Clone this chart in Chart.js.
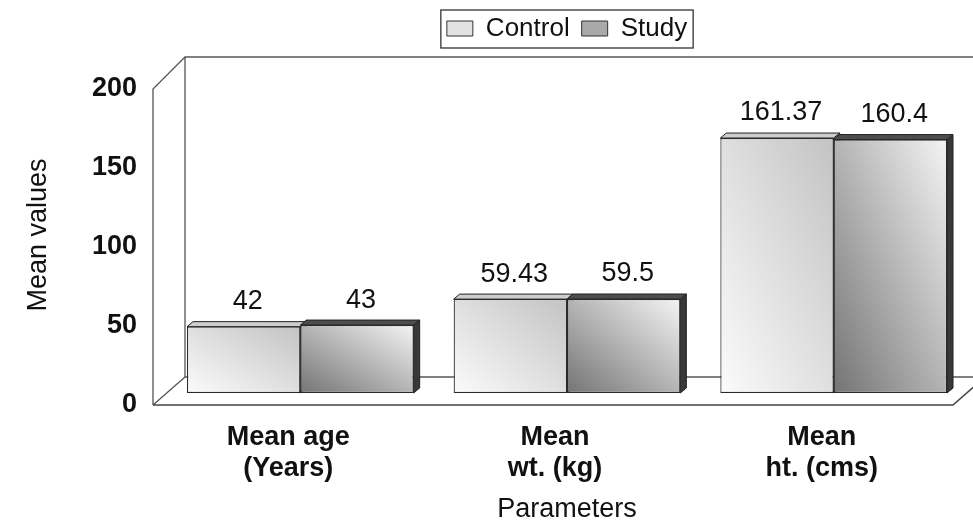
<!DOCTYPE html>
<html>
<head>
<meta charset="utf-8">
<style>
html,body{margin:0;padding:0;background:#ffffff;}
canvas{display:block;}
</style>
<script src="https://cdn.jsdelivr.net/npm/chart.js@4.4.0/dist/chart.umd.min.js"></script>
</head>
<body>
<canvas id="c" width="973" height="529"></canvas>
<script>
// ---- data ----
const categories = [["Mean age", "(Years)"], ["Mean", "wt. (kg)"], ["Mean", "ht. (cms)"]];
const seriesNames = ["Control", "Study"];
const controlValues = [42, 59.43, 161.37];
const studyValues = [43, 59.5, 160.4];
const yTickValues = [0, 50, 100, 150, 200];
const xAxisTitle = "Parameters";
const yAxisTitle = "Mean values";

// ---- styling ----
const FONT = "'Liberation Sans', Arial, Helvetica, sans-serif";
const CAT_PCT = 0.85;
const gradColors = [["#c3c3c3", "#fbfbfb"], ["#f4f4f4", "#747474"]]; // [top-right, bottom-left]
const topFaceColors = ["#cdcdcd", "#4d4d4d"];
const sideFaceColors = ["#999999", "#383838"];
const legendSwatches = ["#e2e2e2", "#a9a9a9"];
const DEPTH = {dx: 6, dy: -5};
const FRONT = {dx: -14, dy: 12};
const BACK = {dx: 18, dy: -16};

Chart.defaults.font.family = FONT;
Chart.defaults.color = "#111";

function frontFill(ctx) {
  const chart = ctx.chart;
  const xs = chart.scales.x, ys = chart.scales.y;
  if (!xs || !ys || ctx.type !== 'data') return legendSwatches[ctx.datasetIndex || 0];
  const i = ctx.dataIndex, di = ctx.datasetIndex;
  const v = chart.data.datasets[di].data[i];
  const c = xs.getPixelForValue(i);
  const w = xs.width / categories.length * CAT_PCT / 2;
  const left = di === 0 ? c - w : c;
  const top = ys.getPixelForValue(v), bottom = ys.getPixelForValue(0);
  const h = Math.max(1, bottom - top);
  const k = 2 * w * h / (w * w + h * h);
  const g = chart.ctx.createLinearGradient(left, bottom, left + h * k, bottom - w * k);
  g.addColorStop(0, gradColors[di][1]);
  g.addColorStop(1, gradColors[di][0]);
  return g;
}

const frame3d = {
  id: 'frame3d',
  beforeDatasetsDraw(chart) {
    const ctx = chart.ctx, xs = chart.scales.x, ys = chart.scales.y;
    const y0 = ys.getPixelForValue(yTickValues[0]);
    const yT = ys.getPixelForValue(yTickValues[yTickValues.length - 1]);
    const L = xs.left, R = xs.right, W = chart.width + 20;
    ctx.save();
    ctx.strokeStyle = '#555';
    ctx.lineWidth = 1.3;
    ctx.beginPath();
    // back wall
    ctx.moveTo(L + BACK.dx, y0 + BACK.dy); ctx.lineTo(L + BACK.dx, yT - 20); ctx.lineTo(W, yT - 20);
    ctx.moveTo(L + BACK.dx, y0 + BACK.dy); ctx.lineTo(R + BACK.dx, y0 + BACK.dy);
    // left side wall
    ctx.moveTo(L + FRONT.dx, y0 + FRONT.dy); ctx.lineTo(L + FRONT.dx, yT + FRONT.dy); ctx.lineTo(L + BACK.dx, yT - 20);
    ctx.moveTo(L + FRONT.dx, y0 + FRONT.dy); ctx.lineTo(L + BACK.dx, y0 + BACK.dy);
    ctx.stroke();
    // floor front
    ctx.strokeStyle = '#444';
    ctx.lineWidth = 1.6;
    ctx.beginPath();
    ctx.moveTo(L + FRONT.dx, y0 + FRONT.dy); ctx.lineTo(R + FRONT.dx, y0 + FRONT.dy); ctx.lineTo(R + BACK.dx, y0 + BACK.dy);
    ctx.stroke();
    // bar extrusions (top + side faces), front faces drawn by Chart.js afterwards
    ctx.lineWidth = 1;
    ctx.strokeStyle = '#222';
    chart.data.datasets.forEach((ds, di) => {
      const meta = chart.getDatasetMeta(di);
      meta.data.forEach(el => {
        const l = el.x - el.width / 2, r = el.x + el.width / 2, t = el.y, b = el.base;
        ctx.beginPath();
        ctx.moveTo(r, t); ctx.lineTo(r + DEPTH.dx, t + DEPTH.dy); ctx.lineTo(r + DEPTH.dx, b + DEPTH.dy); ctx.lineTo(r, b);
        ctx.closePath();
        ctx.fillStyle = sideFaceColors[di]; ctx.fill(); ctx.stroke();
        ctx.beginPath();
        ctx.moveTo(l, t); ctx.lineTo(l + DEPTH.dx, t + DEPTH.dy); ctx.lineTo(r + DEPTH.dx, t + DEPTH.dy); ctx.lineTo(r, t);
        ctx.closePath();
        ctx.fillStyle = topFaceColors[di]; ctx.fill(); ctx.stroke();
      });
    });
    ctx.restore();
  },
  afterDatasetsDraw(chart) {
    const ctx = chart.ctx;
    ctx.save();
    ctx.font = "27px " + FONT;
    ctx.fillStyle = '#111';
    ctx.textAlign = 'center';
    ctx.textBaseline = 'middle';
    chart.data.datasets.forEach((ds, di) => {
      chart.getDatasetMeta(di).data.forEach((el, i) => {
        ctx.fillText(String(ds.data[i]), el.x + 4, el.y - 25);
      });
    });
    ctx.restore();
  },
  afterDraw(chart) {
    const lg = chart.legend;
    if (!lg || !lg.legendHitBoxes || !lg.legendHitBoxes.length) return;
    const hb = lg.legendHitBoxes;
    const first = hb[0], last = hb[hb.length - 1];
    const ctx = chart.ctx;
    ctx.save();
    ctx.strokeStyle = '#333';
    ctx.lineWidth = 1.3;
    const x1 = first.left - 6, x2 = last.left + last.width + 6;
    const y1 = first.top - 5.5, y2 = first.top + first.height + 6.5;
    ctx.strokeRect(x1, y1, x2 - x1, y2 - y1);
    ctx.restore();
  }
};

new Chart(document.getElementById('c'), {
  type: 'bar',
  data: {
    labels: categories,
    datasets: [
      {label: seriesNames[0], data: controlValues, backgroundColor: frontFill, borderColor: '#2a2a2a', borderWidth: 1.2, borderSkipped: false, categoryPercentage: CAT_PCT, barPercentage: 1},
      {label: seriesNames[1], data: studyValues, backgroundColor: frontFill, borderColor: '#2a2a2a', borderWidth: 1.2, borderSkipped: false, categoryPercentage: CAT_PCT, barPercentage: 1}
    ]
  },
  options: {
    responsive: false,
    animation: false,
    devicePixelRatio: 1,
    layout: {padding: {top: 3.5, right: 6, bottom: 0, left: 0}},
    plugins: {
      tooltip: {enabled: false},
      legend: {
        display: true, position: 'top', fullSize: false, weight: 3000,
        labels: {
          font: {size: 26}, color: '#111', boxWidth: 26, boxHeight: 15, padding: 12,
          generateLabels: () => seriesNames.map((n, i) => ({
            text: n, fillStyle: legendSwatches[i], strokeStyle: '#333', lineWidth: 1, datasetIndex: i, hidden: false, fontColor: '#111'
          }))
        }
      },
      subtitle: {display: true, text: '', padding: {top: 0, bottom: 0}, font: {size: 25.5, lineHeight: 1}}
    },
    scales: {
      x: {
        grid: {display: false, drawTicks: false},
        border: {display: false},
        ticks: {font: {size: 27, weight: 'bold', lineHeight: 1.15}, color: '#111', padding: 29, labelOffset: -12, maxRotation: 0, autoSkip: false},
        title: {display: true, text: xAxisTitle, font: {size: 27}, color: '#111', padding: {top: 0, bottom: 3}},
        afterFit: s => { s.height = 136; }
      },
      y: {
        min: yTickValues[0], max: yTickValues[yTickValues.length - 1],
        afterBuildTicks: s => { s.ticks = yTickValues.map(v => ({value: v})); },
        grid: {display: false, drawTicks: false},
        border: {display: false},
        ticks: {font: {size: 27, weight: 'bold'}, color: '#111', padding: 30, labelOffset: 12},
        title: {display: true, text: yAxisTitle, font: {size: 27}, color: '#111', padding: {top: 22, bottom: 0}},
        afterFit: s => { s.width = 167; }
      }
    }
  },
  plugins: [frame3d]
});
</script>
</body>
</html>
